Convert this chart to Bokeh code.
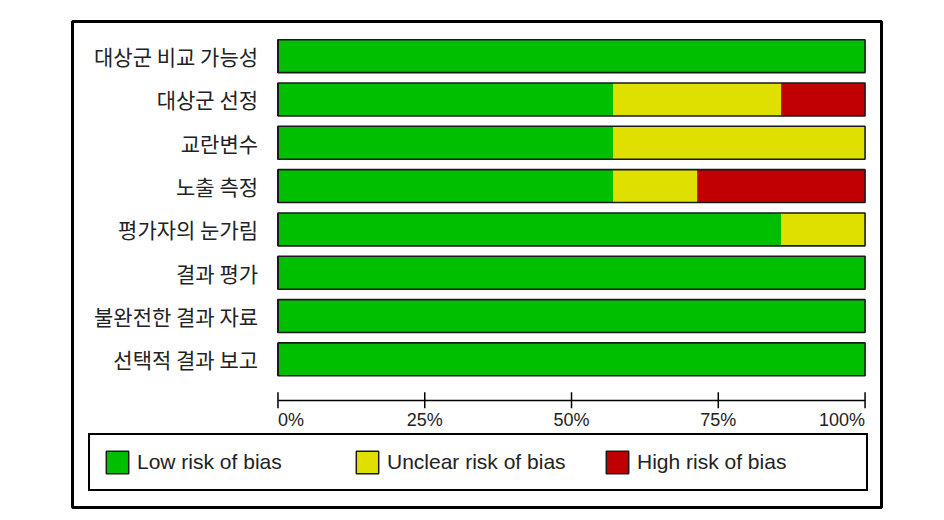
from bokeh.plotting import figure
from bokeh.models import ColumnDataSource, Range1d, Legend, LegendItem
from bokeh.core.properties import value
from bokeh.embed import file_html
from bokeh.resources import INLINE

# ---- data (percent of studies, 7 studies) ----
domains = ["대상군 비교 가능성", "대상군 선정", "교란변수", "노출 측정",
           "평가자의 눈가림", "결과 평가", "불완전한 결과 자료", "선택적 결과 보고"]
low = [100.0, 57.1, 57.1, 57.1, 85.7, 100.0, 100.0, 100.0]
unclear = [0.0, 28.6, 42.9, 14.3, 14.3, 0.0, 0.0, 0.0]
high = [0.0, 14.3, 0.0, 28.6, 0.0, 0.0, 0.0, 0.0]
series_names = ["Low risk of bias", "Unclear risk of bias", "High risk of bias"]
colors = ["#00BF00", "#E0E000", "#C00000"]
tick_values = [0, 25, 50, 75, 100]
tick_labels = ["0%", "25%", "50%", "75%", "100%"]
tick_align = ["left", "center", "center", "center", "right"]

# ---- figure ----
p = figure(width=928, height=512, output_backend="svg", toolbar_location=None,
           x_axis_type=None, y_axis_type=None,
           x_range=Range1d(-35.0, 102.8), y_range=Range1d(10.42, -0.80),
           min_border_left=72, min_border_right=47, min_border_top=21, min_border_bottom=5)
p.grid.visible = False
p.background_fill_color = "white"
p.border_fill_color = "white"
p.outline_line_color = "black"
p.outline_line_width = 3
p.outline_line_alpha = 1.0

ypos = list(range(len(domains)))
src = ColumnDataSource(dict(y=ypos, low=low, unclear=unclear, high=high,
                            total=[a + b + c for a, b, c in zip(low, unclear, high)],
                            start=[0] * len(domains), label=domains))

bar_h = 0.76
p.hbar_stack(["low", "unclear", "high"], y="y", height=bar_h, color=colors,
             line_color=None, source=src)

# legend-only renderers: zero-width bars at the 0 baseline (hidden under the bar outlines)
items = []
for name, c in zip(series_names, colors):
    r = p.hbar(y="y", left="start", right="start", height=bar_h, fill_color=c,
               line_color="#1a1a1a", line_width=1.5, source=src)
    items.append(LegendItem(label=name, renderers=[r]))

# outline around each whole bar
p.hbar(y="y", left="start", right="total", height=bar_h, fill_color=None,
       line_color="#1a1a1a", line_width=1.6, source=src)

# category labels
p.text(x=-3.4, y="y", text="label", source=src, text_align="right",
       text_baseline="middle", text_font=value("Noto Sans CJK KR"),
       text_font_size="21px", text_color="#222222")

# axis line, ticks and tick labels
axis_y = 7.95
p.segment(x0=[tick_values[0]], x1=[tick_values[-1]], y0=[axis_y], y1=[axis_y],
          line_color="black", line_width=1.5)
p.segment(x0=tick_values, x1=tick_values, y0=[axis_y - 0.19] * 5, y1=[axis_y + 0.18] * 5,
          line_color="black", line_width=1.5)
tsrc = ColumnDataSource(dict(x=tick_values, lab=tick_labels, al=tick_align,
                             y=[axis_y + 0.22] * 5))
p.text(x="x", y="y", text="lab", text_align="al", source=tsrc, text_baseline="top",
       text_font=value("Liberation Sans"), text_font_size="18px", text_color="#222222")

leg = Legend(items=items, orientation="horizontal", location=(16, 16),
             glyph_width=28, glyph_height=28, label_standoff=6, label_width=216,
             spacing=0, padding=13, margin=0,
             label_text_font="Liberation Sans", label_text_font_size="21px",
             label_text_color="#222222",
             border_line_color="black", border_line_width=2, border_line_alpha=1.0,
             background_fill_color="white", background_fill_alpha=1.0)
p.add_layout(leg, "center")

open("out.html", "w").write(file_html(p, INLINE))
